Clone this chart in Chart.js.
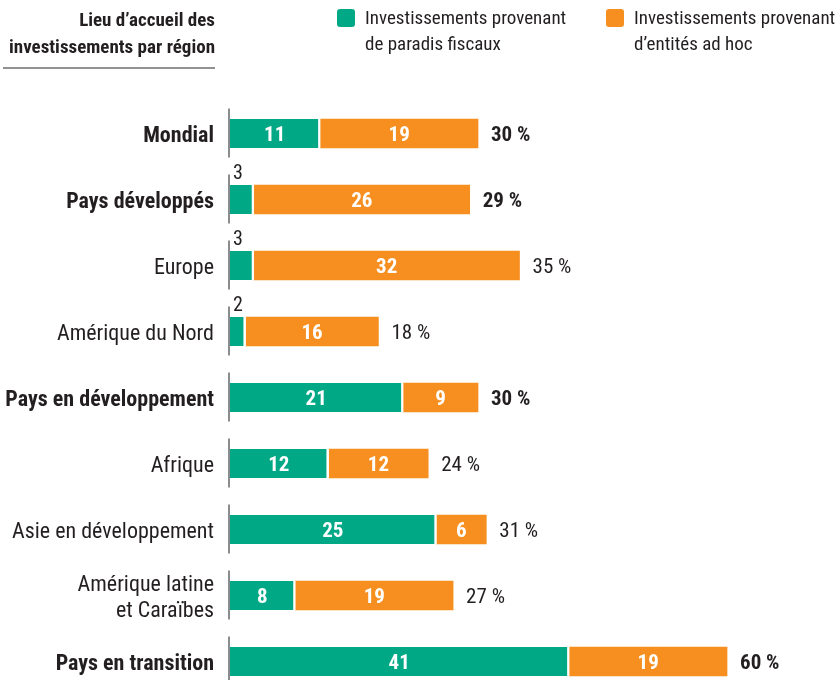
<!DOCTYPE html>
<html lang="fr">
<head>
<meta charset="utf-8">
<title>Lieu d'accueil des investissements par région</title>
<script src="https://cdn.jsdelivr.net/npm/chart.js@4/dist/chart.umd.min.js"></script>
<style>
    html, body { margin: 0; padding: 0; background: #fff; }
    canvas { display: block; }
</style>
</head>
<body>
<canvas id="fdiChart" width="837" height="680"></canvas>
<script>
// Data
const regions = [
    'Mondial',
    'Pays développés',
    'Europe',
    'Amérique du Nord',
    'Pays en développement',
    'Afrique',
    'Asie en développement',
    ['Amérique latine', 'et Caraïbes'],
    'Pays en transition'
];
const aggregates = [true, true, false, false, true, false, false, false, true];
const paradisFiscaux = [11, 3, 3, 2, 21, 12, 25, 8, 41];
const entitesAdHoc = [19, 26, 32, 16, 9, 12, 6, 19, 19];
const totals = ['30 %', '29 %', '35 %', '18 %', '30 %', '24 %', '31 %', '27 %', '60 %'];
const seriesLabels = [
    ['Investissements provenant', 'de paradis fiscaux'],
    ['Investissements provenant', 'd\u2019entités ad hoc']
];
const headerLines = ['Lieu d\u2019accueil des', 'investissements par région'];

const GREEN = '#00a885';
const ORANGE = '#f68f1f';
const FONT = "'Liberation Sans Narrow', 'Roboto Condensed', 'DejaVu Sans Condensed', sans-serif";
const TEXT = '#231f20';

// Header + legend drawn at the top
const headerPlugin = {
    id: 'header',
    afterDraw(chart) {
        const ctx = chart.ctx;
        ctx.save();
        ctx.fillStyle = TEXT;
        ctx.textAlign = 'right';
        ctx.textBaseline = 'middle';
        ctx.font = 'bold 19px ' + FONT;
        headerLines.forEach((line, i) => ctx.fillText(line, 215, 21 + i * 27));
        ctx.strokeStyle = '#6d6e71';
        ctx.lineWidth = 1.5;
        ctx.beginPath();
        ctx.moveTo(3, 68);
        ctx.lineTo(215, 68);
        ctx.stroke();

        const boxX = [337, 606];
        const colors = [GREEN, ORANGE];
        ctx.textAlign = 'left';
        ctx.font = '19px ' + FONT;
        seriesLabels.forEach((lines, i) => {
            ctx.fillStyle = colors[i];
            ctx.beginPath();
            ctx.roundRect(boxX[i], 9, 18, 18, 3);
            ctx.fill();
            ctx.fillStyle = TEXT;
            lines.forEach((line, j) => ctx.fillText(line, boxX[i] + 28, 19 + j * 26));
        });
        ctx.restore();
    }
};

// Segmented axis line and value labels
const barLabelsPlugin = {
    id: 'barLabels',
    afterDatasetsDraw(chart) {
        const ctx = chart.ctx;
        const yScale = chart.scales.y;
        const xScale = chart.scales.x;
        ctx.save();

        // axis segments
        ctx.strokeStyle = '#8a8c8e';
        ctx.lineWidth = 2;
        regions.forEach((r, i) => {
            const yc = yScale.getPixelForValue(i);
            ctx.beginPath();
            ctx.moveTo(xScale.left, yc - 25);
            ctx.lineTo(xScale.left, yc + 24);
            ctx.stroke();
        });

        ctx.textBaseline = 'middle';
        chart.data.datasets.forEach((ds, di) => {
            const meta = chart.getDatasetMeta(di);
            meta.data.forEach((bar, i) => {
                const w = bar.x - bar.base;
                const value = ds.data[i];
                if (w > 30) {
                    ctx.fillStyle = '#fff';
                    ctx.textAlign = 'center';
                    ctx.font = 'bold 21px ' + FONT;
                    ctx.fillText(value, (bar.x + bar.base) / 2, bar.y + 2);
                } else {
                    ctx.fillStyle = TEXT;
                    ctx.textAlign = 'left';
                    ctx.font = '20px ' + FONT;
                    ctx.fillText(value, bar.base + 4, bar.y - 26);
                }
            });
        });

        // totals
        const last = chart.getDatasetMeta(1);
        last.data.forEach((bar, i) => {
            ctx.fillStyle = TEXT;
            ctx.textAlign = 'left';
            ctx.font = (aggregates[i] ? 'bold ' : '') + '21px ' + FONT;
            ctx.fillText(totals[i], bar.x + 13, bar.y + 2);
        });
        ctx.restore();
    }
};

new Chart(document.getElementById('fdiChart'), {
    type: 'bar',
    data: {
        labels: regions,
        datasets: [
            {
                label: seriesLabels[0].join(' '),
                data: paradisFiscaux,
                backgroundColor: GREEN,
                borderColor: '#fff',
                borderWidth: { top: 0, right: 2.5, bottom: 0, left: 0 },
                borderSkipped: false,
                barThickness: 29,
                clip: false
            },
            {
                label: seriesLabels[1].join(' '),
                data: entitesAdHoc,
                backgroundColor: ORANGE,
                borderWidth: 0,
                barThickness: 29,
                clip: false
            }
        ]
    },
    options: {
        indexAxis: 'y',
        responsive: false,
        animation: false,
        layout: {
            padding: { top: 133.5, bottom: 18.5, left: 0, right: 0 }
        },
        plugins: {
            legend: { display: false },
            tooltip: { enabled: false }
        },
        scales: {
            x: {
                stacked: true,
                display: false,
                min: 0,
                max: 73.25
            },
            y: {
                stacked: true,
                offset: false,
                border: { display: false },
                grid: { display: false, drawTicks: false },
                afterFit: (scale) => {
                    scale.width = 229;
                    scale.paddingTop = 0;
                    scale.paddingBottom = 0;
                },
                ticks: {
                    padding: 15,
                    labelOffset: 3,
                    color: TEXT,
                    font: (ctx) => ({
                        family: FONT,
                        size: 22,
                        weight: aggregates[ctx.index] ? 'bold' : 'normal',
                        lineHeight: 1.2
                    })
                }
            }
        }
    },
    plugins: [headerPlugin, barLabelsPlugin]
});
</script>
</body>
</html>
